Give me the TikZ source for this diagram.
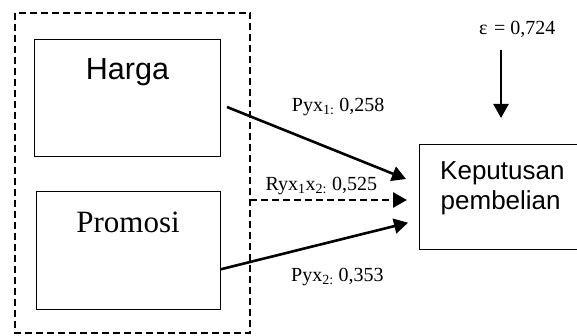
\documentclass[tikz,border=0pt]{standalone}
\usepackage{fontspec}
\setmainfont{Liberation Serif}
\setsansfont{Liberation Sans}
\usetikzlibrary{arrows.meta}

\tikzset{
  box/.style={draw, line width=1.4pt, inner sep=0pt, anchor=north west},
  group/.style={draw, line width=2pt, dash pattern=on 7pt off 4pt},
  effect/.style={line width=2.6pt, -{Triangle[length=14pt,width=15pt]}},
  coef/.style={font=\fontsize{20}{24}\selectfont, inner sep=0pt, anchor=base west},
  bigsans/.style={font=\sffamily\fontsize{30.5}{36}\selectfont, inner sep=0pt, anchor=base},
  bigserif/.style={font=\fontsize{31}{36}\selectfont, inner sep=0pt, anchor=base},
  midsans/.style={font=\sffamily\fontsize{26}{30}\selectfont, inner sep=0pt, anchor=base west},
}

\begin{document}
\begin{tikzpicture}[x=1pt, y=-1pt]
  \clip (0,0) rectangle (577,336);

  % exogenous variables grouped by a dashed frame
  \draw[group] (15,12.7) rectangle (250,333);
  \node[box, minimum width=186pt, minimum height=117pt] (harga) at (34,39) {};
  \node[box, minimum width=184pt, minimum height=118pt] (promosi) at (36,191) {};
  \node[bigsans] (hargaT) at (127.5,80) {Harga};
  \node[bigserif] (promosiT) at (128,232.3) {Promosi};

  % endogenous variable
  \node[box, minimum width=200pt, minimum height=105pt] (kep) at (419,144) {};
  \node[midsans] (kepT1) at (440,179.3) {Keputusan};
  \node[midsans] (kepT2) at (440.5,209.5) {pembelian};

  % connector end points
  \coordinate (hs) at (227,107);
  \coordinate (ht) at (406,179);
  \coordinate (rs) at (250,200);
  \coordinate (rt) at (407,200);
  \coordinate (ps) at (220.7,269.3);
  \coordinate (pt) at (408,222.7);
  \coordinate (es) at (501,50);
  \coordinate (et) at (501,118);

  \draw[effect] (hs) -- (ht);
  \draw[effect, dash pattern=on 7pt off 4pt] (rs) -- (rt);
  \draw[effect] (ps) -- (pt);
  \draw[effect] (es) -- (et);

  % path coefficients
  \node[coef] (c1) at (291.7,111.7) {Pyx\textsubscript{1:} 0,258};
  \node[coef] (c12) at (265.5,190.5) {Ryx\textsubscript{1}x\textsubscript{2:} 0,525};
  \node[coef] (c2) at (291,281) {Pyx\textsubscript{2:} 0,353};
  \node[coef] (eps) at (479,35) {ε\hspace{6.5pt}=\hspace{5pt}0,724};
\end{tikzpicture}
\end{document}
